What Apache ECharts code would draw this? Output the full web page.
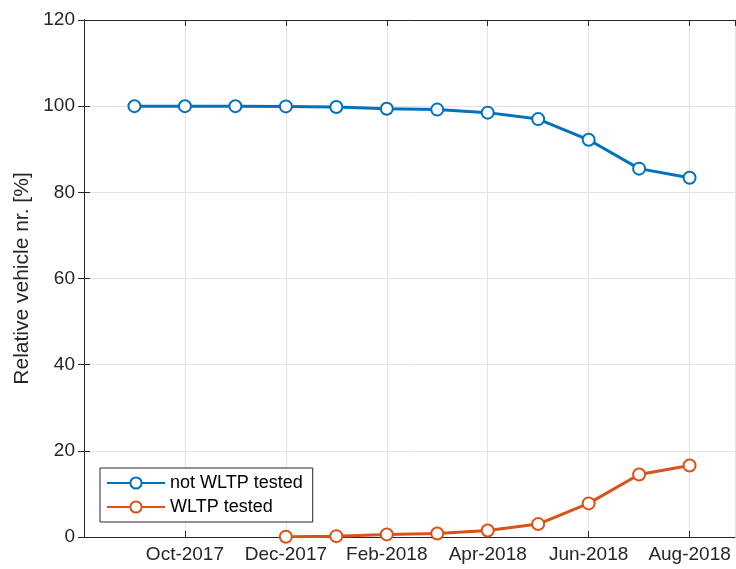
<!DOCTYPE html>
<html>
<head>
<meta charset="utf-8">
<script src="https://cdn.jsdelivr.net/npm/echarts@6/dist/echarts.min.js"></script>
<style>
  html, body { margin: 0; padding: 0; background: #fff; }
  #chart { width: 736px; height: 569px; }
</style>
</head>
<body>
<div id="chart"></div>
<script>
// months, Sep-2017 = 1 ... Aug-2018 = 12
const months = ['Sep-2017', 'Oct-2017', 'Nov-2017', 'Dec-2017', 'Jan-2018', 'Feb-2018',
  'Mar-2018', 'Apr-2018', 'May-2018', 'Jun-2018', 'Jul-2018', 'Aug-2018']
const tickLabels = ['Oct-2017', 'Dec-2017', 'Feb-2018', 'Apr-2018', 'Jun-2018', 'Aug-2018']
const notTested = [100, 100, 100, 99.95, 99.8, 99.4, 99.2, 98.5, 97.0, 92.2, 85.5, 83.4]
const tested = [null, null, null, 0.05, 0.2, 0.6, 0.8, 1.5, 3.0, 7.8, 14.5, 16.6]

const blue = '#0072BD'
const orange = '#D95319'
const axisColor = '#262626'
const font = 'Liberation Sans, Arial, Helvetica, sans-serif'

// 把数组转成 [x, y] 点
const toPoints = arr => arr
  .map((v, i) => [i + 1, v])
  .filter(p => p[1] !== null)

const myChart = echarts.init(document.getElementById('chart'))

const xCommon = {
  type: 'value',
  min: 0,
  max: 12.9,
  interval: 2,
  axisLine: { show: true, onZero: false, lineStyle: { color: axisColor, width: 1 } },
  axisTick: { show: true, inside: true, length: 6, lineStyle: { color: axisColor } },
  splitLine: { show: false }
}
const yCommon = {
  type: 'value',
  min: 0,
  max: 120,
  interval: 20,
  axisLine: { show: true, lineStyle: { color: axisColor, width: 1 } },
  axisTick: { show: true, inside: true, length: 6, lineStyle: { color: axisColor } },
  splitLine: { show: false }
}

const lineSeries = (name, values, color) => ({
  name,
  type: 'line',
  data: toPoints(values),
  symbol: 'emptyCircle',
  symbolSize: 12,
  color,
  lineStyle: { color, width: 3 },
  itemStyle: { color, borderColor: color, borderWidth: 2.8 }
})

myChart.setOption({
  animation: false,
  backgroundColor: '#fff',
  grid: { left: 84, top: 20, right: 1, bottom: 32, containLabel: false },
  legend: {
    orient: 'vertical',
    left: 100,
    top: 468,
    itemWidth: 58,
    itemHeight: 14,
    itemGap: 6,
    padding: [6, 10, 6, 6],
    backgroundColor: '#fff',
    borderColor: axisColor,
    borderWidth: 1,
    borderRadius: 0,
    textStyle: { fontFamily: font, fontSize: 18, color: '#000' },
    data: ['not WLTP tested', 'WLTP tested']
  },
  xAxis: [
    Object.assign({}, xCommon, {
      position: 'bottom',
      axisLabel: {
        show: true,
        fontFamily: font,
        fontSize: 19,
        color: axisColor,
        margin: 8,
        showMinLabel: false,
        showMaxLabel: false,
        formatter: v => (v > 0 && v % 2 === 0) ? tickLabels[v / 2 - 1] : ''
      },
      splitLine: { show: true, lineStyle: { color: '#e3e3e3', width: 1 } }
    }),
    Object.assign({}, xCommon, {
      position: 'top',
      axisLabel: { show: false }
    })
  ],
  yAxis: [
    Object.assign({}, yCommon, {
      position: 'left',
      name: 'Relative vehicle nr. [%]',
      nameLocation: 'middle',
      nameGap: 41,
      nameTextStyle: { fontFamily: font, fontSize: 21, color: axisColor },
      axisLabel: { fontFamily: font, fontSize: 19, color: axisColor, margin: 9 },
      splitLine: { show: true, lineStyle: { color: '#e3e3e3', width: 1 } }
    }),
    Object.assign({}, yCommon, {
      position: 'right',
      axisLabel: { show: false }
    })
  ],
  series: [
    lineSeries('not WLTP tested', notTested, blue),
    lineSeries('WLTP tested', tested, orange)
  ]
})
</script>
</body>
</html>
